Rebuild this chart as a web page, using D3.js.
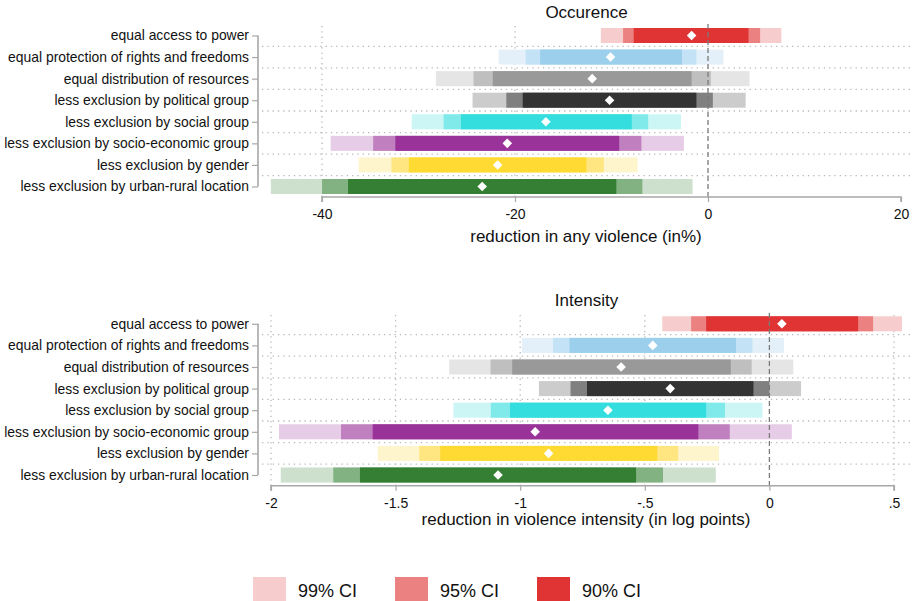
<!DOCTYPE html>
<html>
<head>
<meta charset="utf-8">
<script src="https://cdn.jsdelivr.net/npm/d3@7"></script>
<style>
  html, body { margin: 0; padding: 0; background: #fff; }
  svg { display: block; font-family: "Liberation Sans", Arial, Helvetica, sans-serif; }
</style>
</head>
<body>
<svg id="chart" width="912" height="601"></svg>
<script>
// Categories (top to bottom)
const categories = [
  "equal access to power",
  "equal protection of rights and freedoms",
  "equal distribution of resources",
  "less exclusion by political group",
  "less exclusion by social group",
  "less exclusion by socio-economic group",
  "less exclusion by gender",
  "less exclusion by urban-rural location"
];

// Occurence: reduction in any violence (in %)
const occEst  = [-1.7, -10.1, -12.0, -10.2, -16.8, -20.8, -21.8, -23.4];
const occLo90 = [-7.7, -17.4, -22.3, -19.2, -25.6, -32.4, -31.0, -37.3];
const occHi90 = [ 4.2,  -2.7,  -1.7,  -1.2,  -7.9,  -9.2, -12.6,  -9.5];
const occLo95 = [-8.8, -18.9, -24.3, -20.9, -27.4, -34.7, -32.8, -40.0];
const occHi95 = [ 5.4,  -1.2,   0.3,   0.5,  -6.2,  -6.9, -10.8,  -6.8];
const occLo99 = [-11.1, -21.7, -28.2, -24.4, -30.7, -39.1, -36.2, -45.3];
const occHi99 = [ 7.6,   1.6,   4.3,   3.9,  -2.8,  -2.5,  -7.3,  -1.6];
const occTicks = [-40, -20, 0, 20];
const occTickLabels = ["-40", "-20", "0", "20"];

// Intensity: reduction in violence intensity (in log points)
const intEst  = [ 0.050, -0.468, -0.595, -0.398, -0.648, -0.940, -0.886, -1.089];
const intLo90 = [-0.254, -0.802, -1.032, -0.732, -1.041, -1.592, -1.321, -1.643];
const intHi90 = [ 0.356, -0.134, -0.155, -0.064, -0.254, -0.285, -0.450, -0.535];
const intLo95 = [-0.314, -0.868, -1.119, -0.798, -1.118, -1.719, -1.405, -1.750];
const intHi95 = [ 0.416, -0.068, -0.071,  0.000, -0.178, -0.159, -0.366, -0.427];
const intLo99 = [-0.430, -0.993, -1.285, -0.925, -1.268, -1.968, -1.572, -1.961];
const intHi99 = [ 0.532,  0.059,  0.096,  0.127, -0.028,  0.090, -0.202, -0.215];
const intTicks = [-2, -1.5, -1, -0.5, 0, 0.5];
const intTickLabels = ["-2", "-1.5", "-1", "-.5", "0", ".5"];

// Shades per category: 90%, 95%, 99% intervals
const col90 = ["#e03434", "#9ccfec", "#999999", "#333333", "#34dede", "#993399", "#ffda33", "#347f34"];
const col95 = ["#ec8181", "#c3e2f5", "#bfbfbf", "#808080", "#80eaea", "#c080c0", "#ffe680", "#82b282"];
const col99 = ["#f7cccc", "#e3f0fa", "#e5e5e5", "#cccccc", "#ccf6f6", "#e6cce6", "#fff5cc", "#cde0cd"];

const legendLabels = ["99% CI", "95% CI", "90% CI"];
const legendColors = [col99[0], col95[0], col90[0]];

const svg = d3.select("#chart");
const FONT = "\"Liberation Sans\", Arial, Helvetica, sans-serif";

function panel(opts) {
  const g = svg.append("g");
  const x = d3.scaleLinear().domain(opts.domain).range(opts.range);
  const y = d3.scalePoint().domain(categories).range(opts.yRange);
  const yAxisX = 258, regionRight = 910;
  const barH = 15;
  const rowStep = y.step();

  // title
  g.append("text")
    .attr("x", 586.5).attr("y", opts.titleY)
    .attr("text-anchor", "middle")
    .attr("font-size", 17).attr("fill", "#111")
    .text(opts.title);

  // horizontal dotted gridlines between rows
  const mids = categories.slice(0, -1).map((c, i) => y(c) + rowStep / 2);
  g.selectAll(".hgrid").data(mids).enter().append("line")
    .attr("x1", yAxisX + 4).attr("x2", regionRight)
    .attr("y1", d => d).attr("y2", d => d)
    .attr("stroke", "#b8b8b8").attr("stroke-width", 1.3)
    .attr("stroke-dasharray", "1.3,4");

  // vertical dotted gridlines
  g.selectAll(".vgrid").data(opts.gridVals).enter().append("line")
    .attr("x1", d => x(d)).attr("x2", d => x(d))
    .attr("y1", opts.regionTop).attr("y2", opts.axisY)
    .attr("stroke", "#b8b8b8").attr("stroke-width", 1.3)
    .attr("stroke-dasharray", "1.3,4");

  // bars: 99, 95, 90
  const idx = d3.range(categories.length);
  const layers = [
    [opts.lo99, opts.hi99, col99],
    [opts.lo95, opts.hi95, col95],
    [opts.lo90, opts.hi90, col90]
  ];
  layers.forEach(([lo, hi, cols]) => {
    g.append("g").selectAll("rect").data(idx).enter().append("rect")
      .attr("x", i => x(lo[i]))
      .attr("width", i => x(hi[i]) - x(lo[i]))
      .attr("y", i => y(categories[i]) - barH / 2)
      .attr("height", barH)
      .attr("fill", i => cols[i]);
  });

  // reference line at zero
  g.append("line")
    .attr("x1", x(0)).attr("x2", x(0))
    .attr("y1", opts.regionTop - 2).attr("y2", opts.axisY)
    .attr("stroke", "#7a7a7a").attr("stroke-width", 1.3)
    .attr("stroke-dasharray", "5,3");

  // point estimates
  g.append("g").selectAll("path").data(idx).enter().append("path")
    .attr("d", d3.symbol(d3.symbolSquare, 46))
    .attr("transform", i => `translate(${x(opts.est[i])},${y(categories[i])}) rotate(45)`)
    .attr("fill", "#fff");

  // x axis
  const xAxis = d3.axisBottom(x)
    .tickValues(opts.ticks)
    .tickFormat((d, i) => opts.tickLabels[i])
    .tickSize(5).tickPadding(7);
  const ax = g.append("g").attr("transform", `translate(0,${opts.axisY})`).call(xAxis);
  ax.select(".domain").attr("stroke", "#a8a8a8").attr("stroke-width", 1.6)
    .attr("d", `M${x(opts.domain[0])},5V0H${x(opts.domain[1])}V5`);
  ax.selectAll(".tick line").attr("stroke", "#a8a8a8").attr("stroke-width", 1.2);
  ax.selectAll(".tick text").attr("font-size", 14).attr("fill", "#111").attr("font-family", FONT);

  g.append("text")
    .attr("x", 586).attr("y", opts.xTitleY)
    .attr("text-anchor", "middle")
    .attr("font-size", 17).attr("fill", "#111")
    .text(opts.xTitle);

  // y axis
  const yAxis = d3.axisLeft(y).tickSize(6).tickPadding(3);
  const ay = g.append("g").attr("transform", `translate(${yAxisX},0)`).call(yAxis);
  ay.select(".domain").attr("stroke", "#a8a8a8").attr("stroke-width", 1.6)
    .attr("d", `M0,${opts.yRange[0]}V${opts.yRange[1]}`);
  ay.selectAll(".tick line").attr("stroke", "#a8a8a8").attr("stroke-width", 1.2);
  ay.selectAll(".tick text").attr("font-size", 13.9).attr("fill", "#111").attr("font-family", FONT);
}

panel({
  title: "Occurence", titleY: 18,
  domain: [-40, 20], range: [322, 901],
  yRange: [35.5, 186.5], regionTop: 26, axisY: 197,
  gridVals: [-40, -20],
  ticks: occTicks, tickLabels: occTickLabels,
  est: occEst, lo90: occLo90, hi90: occHi90, lo95: occLo95, hi95: occHi95, lo99: occLo99, hi99: occHi99,
  xTitle: "reduction in any violence (in%)", xTitleY: 242
});

panel({
  title: "Intensity", titleY: 306,
  domain: [-2, 0.5], range: [271, 894],
  yRange: [323.8, 475], regionTop: 315, axisY: 485.7,
  gridVals: [-2, -1.5, -1, -0.5, 0.5],
  ticks: intTicks, tickLabels: intTickLabels,
  est: intEst, lo90: intLo90, hi90: intHi90, lo95: intLo95, hi95: intHi95, lo99: intLo99, hi99: intHi99,
  xTitle: "reduction in violence intensity (in log points)", xTitleY: 525
});

// legend
const legendX = [253, 395, 537];
const lg = svg.append("g");
lg.selectAll("rect").data(legendLabels).enter().append("rect")
  .attr("x", (d, i) => legendX[i]).attr("y", 577)
  .attr("width", 33).attr("height", 24)
  .attr("fill", (d, i) => legendColors[i]);
lg.selectAll("text").data(legendLabels).enter().append("text")
  .attr("x", (d, i) => legendX[i] + 45).attr("y", 597)
  .attr("font-size", 18).attr("fill", "#111")
  .text(d => d);
</script>
</body>
</html>
